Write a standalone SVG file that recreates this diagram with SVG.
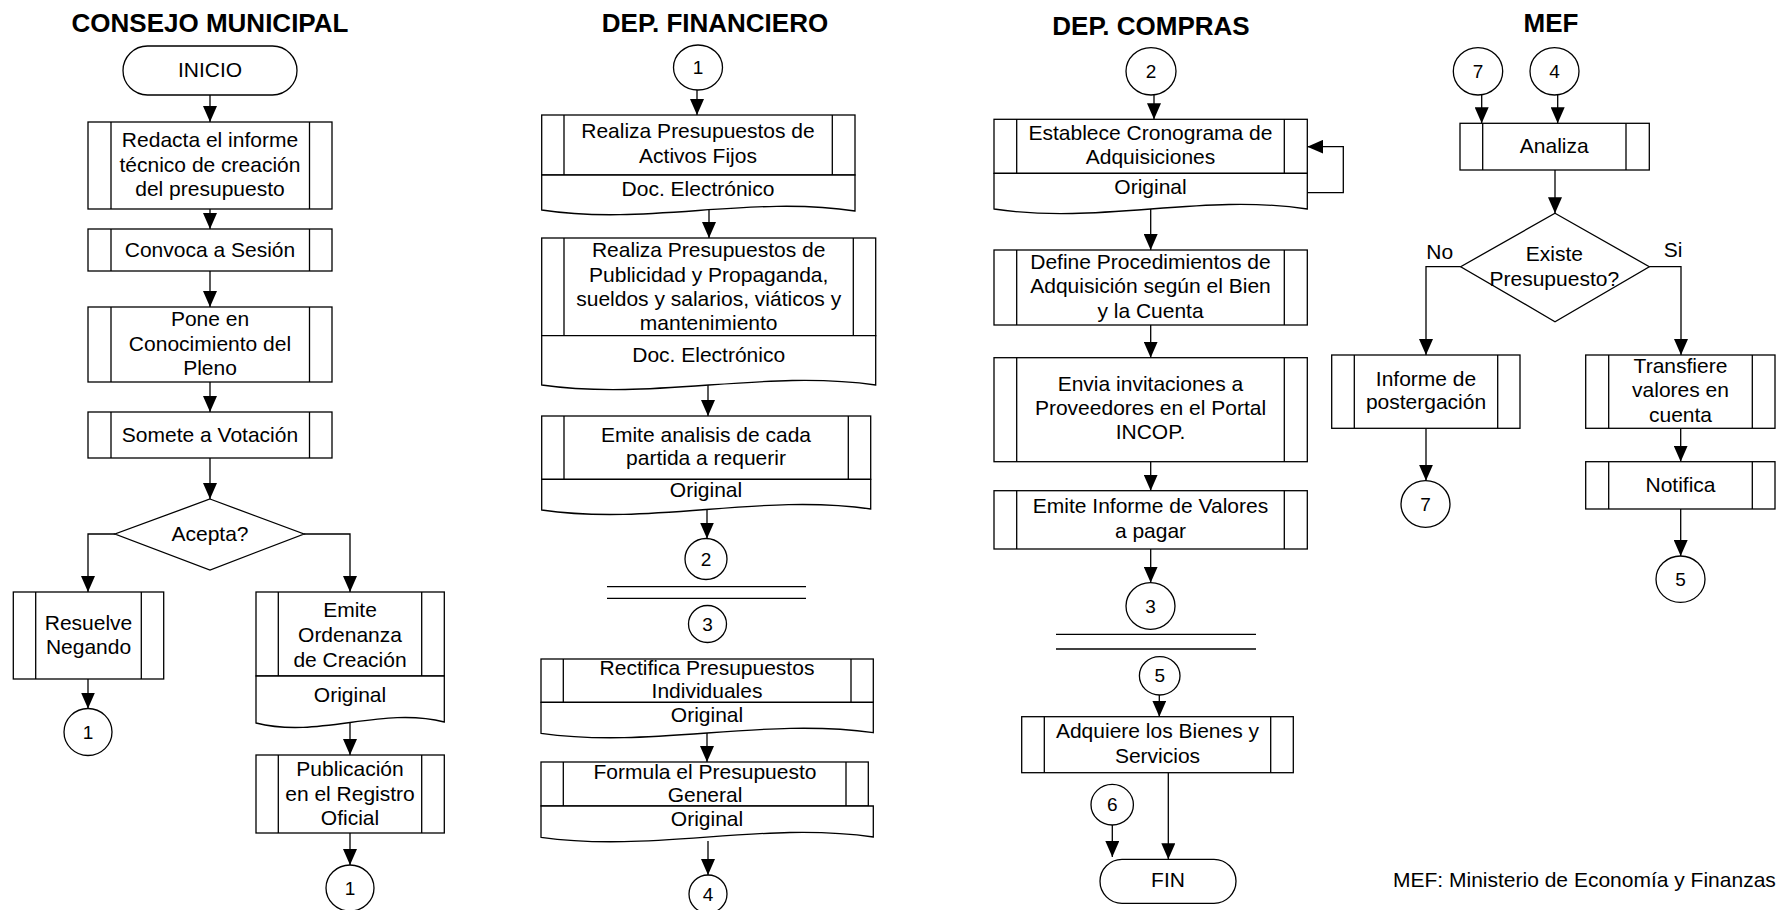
<svg xmlns="http://www.w3.org/2000/svg" width="1782" height="910" viewBox="0 0 1782 910">
<style>
.s{fill:#fff;stroke:#000;stroke-width:1.3}
.l{fill:none;stroke:#000;stroke-width:1.3}
.t{font-family:"Liberation Sans",Arial,sans-serif;font-size:21px;text-anchor:middle;fill:#000}
.n{font-family:"Liberation Sans",Arial,sans-serif;font-size:19px;text-anchor:middle;fill:#000}
.h{font-family:"Liberation Sans",Arial,sans-serif;font-size:26px;font-weight:bold;text-anchor:middle;fill:#000}
</style>
<defs>
<marker id="a" markerUnits="userSpaceOnUse" markerWidth="16" markerHeight="14" refX="16" refY="7" orient="auto"><path d="M0,0 L16,7 L0,14 z" fill="#000"/></marker>
</defs>
<rect width="1782" height="910" fill="#fff"/>

<g id="titles">
<text class="h" x="210" y="32">CONSEJO MUNICIPAL</text>
<text class="h" x="715" y="32">DEP. FINANCIERO</text>
<text class="h" x="1151" y="35">DEP. COMPRAS</text>
<text class="h" x="1551" y="32">MEF</text>
</g>

<g id="connectors" class="l" marker-end="url(#a)">
<line x1="210" y1="95" x2="210" y2="122"/>
<line x1="210" y1="209" x2="210" y2="229"/>
<line x1="210" y1="271" x2="210" y2="307"/>
<line x1="210" y1="382" x2="210" y2="412"/>
<line x1="210" y1="458" x2="210" y2="499"/>
<polyline points="115,534 88,534 88,592"/>
<polyline points="304,534 350,534 350,592"/>
<line x1="88" y1="679" x2="88" y2="708.5"/>
<line x1="350" y1="723" x2="350" y2="755"/>
<line x1="350" y1="833" x2="350" y2="865"/>

<line x1="697" y1="90" x2="697" y2="115"/>
<line x1="709" y1="210" x2="709" y2="238"/>
<line x1="708" y1="385" x2="708" y2="416"/>
<line x1="707" y1="510" x2="707" y2="538.5"/>
<line x1="707" y1="733" x2="707" y2="762"/>
<line x1="708" y1="841" x2="708" y2="875"/>

<line x1="1154" y1="95" x2="1154" y2="119.3"/>
<polyline points="1307.3,192.7 1343.3,192.7 1343.3,146.7 1307.3,146.7"/>
<line x1="1150.7" y1="209" x2="1150.7" y2="250"/>
<line x1="1150.7" y1="325" x2="1150.7" y2="357.7"/>
<line x1="1150.7" y1="461.7" x2="1150.7" y2="490.7"/>
<line x1="1150.7" y1="549" x2="1150.7" y2="582.7"/>
<line x1="1159.3" y1="695" x2="1159.3" y2="716.7"/>
<line x1="1112.3" y1="825" x2="1112.3" y2="857"/>
<line x1="1168.3" y1="772.7" x2="1168.3" y2="859.3"/>

<line x1="1481.7" y1="95" x2="1481.7" y2="123.3"/>
<line x1="1557.7" y1="95" x2="1557.7" y2="123.3"/>
<line x1="1555" y1="170" x2="1555" y2="213.3"/>
<polyline points="1460.7,266.7 1426,266.7 1426,355"/>
<polyline points="1649.3,266.7 1681,266.7 1681,355"/>
<line x1="1426" y1="428.3" x2="1426" y2="480.7"/>
<line x1="1680.7" y1="428.3" x2="1680.7" y2="461.7"/>
<line x1="1680.7" y1="509" x2="1680.7" y2="556"/>
</g>

<g id="separators" class="l">
<line x1="607" y1="586.7" x2="806" y2="586.7"/>
<line x1="607" y1="598.3" x2="806" y2="598.3"/>
<line x1="1056" y1="634.3" x2="1256" y2="634.3"/>
<line x1="1056" y1="649" x2="1256" y2="649"/>
</g>

<!-- CONSEJO MUNICIPAL -->
<g id="inicio"><rect class="s" x="123" y="46" width="174" height="49" rx="24.5"/><text class="t" x="210" y="77">INICIO</text></g>
<g id="redacta"><rect class="s" x="88" y="122" width="244" height="87"/><path class="l" d="M111 122V209M309.5 122V209"/>
<text class="t" x="210" y="147">Redacta el informe</text><text class="t" x="210" y="171.5">técnico de creación</text><text class="t" x="210" y="196">del presupuesto</text></g>
<g id="convoca"><rect class="s" x="88" y="229" width="244" height="42"/><path class="l" d="M111 229V271M309.5 229V271"/><text class="t" x="210" y="256.5">Convoca a Sesión</text></g>
<g id="pone"><rect class="s" x="88" y="307" width="244" height="75"/><path class="l" d="M111 307V382M309.5 307V382"/>
<text class="t" x="210" y="326">Pone en</text><text class="t" x="210" y="350.5">Conocimiento del</text><text class="t" x="210" y="375">Pleno</text></g>
<g id="somete"><rect class="s" x="88" y="412" width="244" height="46"/><path class="l" d="M111 412V458M309.5 412V458"/><text class="t" x="210" y="442">Somete a Votación</text></g>
<g id="acepta"><polygon class="s" points="210,499 304,534 210,570 115,534"/><text class="t" x="210" y="541">Acepta?</text></g>
<g id="resuelve"><rect class="s" x="13.3" y="592" width="150.4" height="87"/><path class="l" d="M35.7 592V679M141.3 592V679"/>
<text class="t" x="88.5" y="630">Resuelve</text><text class="t" x="88.5" y="653.5">Negando</text></g>
<g id="c1a"><ellipse class="s" cx="88" cy="732" rx="24" ry="23.5"/><text class="n" x="88" y="738.5">1</text></g>
<g id="emite-ordenanza"><rect class="s" x="256" y="592" width="188.3" height="84"/><path class="l" d="M278.3 592V676M421.7 592V676"/>
<path class="s" d="M256 676H444.3V722C381.5 706 318.8 739 256 723Z"/>
<text class="t" x="350" y="617">Emite</text><text class="t" x="350" y="642">Ordenanza</text><text class="t" x="350" y="667">de Creación</text><text class="t" x="350" y="702">Original</text></g>
<g id="publicacion"><rect class="s" x="256" y="755" width="188.3" height="78"/><path class="l" d="M278.3 755V833M421.7 755V833"/>
<text class="t" x="350" y="776">Publicación</text><text class="t" x="350" y="801">en el Registro</text><text class="t" x="350" y="825">Oficial</text></g>
<g id="c1b"><ellipse class="s" cx="350" cy="888" rx="24" ry="23"/><text class="n" x="350" y="894.5">1</text></g>

<!-- DEP. FINANCIERO -->
<g id="f-c1"><ellipse class="s" cx="698" cy="67.5" rx="24.5" ry="22.5"/><text class="n" x="698" y="74">1</text></g>
<g id="activos"><rect class="s" x="541.7" y="115" width="313.3" height="60"/><path class="l" d="M564 115V175M832.3 115V175"/>
<path class="s" d="M541.7 175H855V211C750.6 195 646.1 226 541.7 210Z"/>
<text class="t" x="698" y="137.7">Realiza Presupuestos de</text><text class="t" x="698" y="162.7">Activos Fijos</text><text class="t" x="698" y="196">Doc. Electrónico</text></g>
<g id="publicidad"><rect class="s" x="541.7" y="238" width="334" height="97.7"/><path class="l" d="M564 238V335.7M853.3 238V335.7"/>
<path class="s" d="M541.7 335.7H875.7V385C764.4 369 653 401 541.7 385Z"/>
<text class="t" x="708.7" y="256.7">Realiza Presupuestos de</text><text class="t" x="708.7" y="281.7">Publicidad y Propaganda,</text><text class="t" x="708.7" y="306">sueldos y salarios, viáticos y</text><text class="t" x="708.7" y="330">mantenimiento</text><text class="t" x="708.7" y="362.3">Doc. Electrónico</text></g>
<g id="analisis"><rect class="s" x="541.7" y="416" width="329" height="63.3"/><path class="l" d="M564 416V479.3M848.3 416V479.3"/>
<path class="s" d="M541.7 479.3H870.7V509C761 493 651.4 526 541.7 510Z"/>
<text class="t" x="706" y="441.7">Emite analisis de cada</text><text class="t" x="706" y="465">partida a requerir</text><text class="t" x="706" y="497.3">Original</text></g>
<g id="f-c2"><ellipse class="s" cx="706" cy="559" rx="21" ry="20.5"/><text class="n" x="706" y="565.5">2</text></g>
<g id="f-c3"><ellipse class="s" cx="707.5" cy="624" rx="19" ry="18.5"/><text class="n" x="707.5" y="630.5">3</text></g>
<g id="rectifica"><rect class="s" x="541" y="659" width="332.3" height="43.3"/><path class="l" d="M563.3 659V702.3M851 659V702.3"/>
<path class="s" d="M541 702.3H873.3V732.7C762.5 717 651.8 749 541 733.3Z"/>
<text class="t" x="707" y="675">Rectifica Presupuestos</text><text class="t" x="707" y="698.3">Individuales</text><text class="t" x="707" y="721.7">Original</text></g>
<g id="formula"><rect class="s" x="541" y="762" width="327.3" height="44"/><path class="l" d="M563.3 762V806M846 762V806"/>
<path class="s" d="M541 806H873.3V837C762.5 821 651.8 853 541 837.3Z"/>
<text class="t" x="705" y="779.3">Formula el Presupuesto</text><text class="t" x="705" y="802.3">General</text><text class="t" x="707" y="825.7">Original</text></g>
<g id="f-c4"><ellipse class="s" cx="708" cy="894" rx="19" ry="19"/><text class="n" x="708" y="900.5">4</text></g>

<!-- DEP. COMPRAS -->
<g id="p-c2"><ellipse class="s" cx="1151" cy="71.3" rx="25" ry="23.7"/><text class="n" x="1151" y="77.8">2</text></g>
<g id="establece"><rect class="s" x="994" y="119.3" width="313.3" height="54"/><path class="l" d="M1016.7 119.3V173.3M1284.3 119.3V173.3"/>
<path class="s" d="M994 173.3H1307.3V209C1202.9 193 1098.4 225 994 209Z"/>
<text class="t" x="1150.5" y="140">Establece Cronograma de</text><text class="t" x="1150.5" y="164.3">Adquisiciones</text><text class="t" x="1150.5" y="194.3">Original</text></g>
<g id="define"><rect class="s" x="994" y="250" width="313.3" height="75"/><path class="l" d="M1016.7 250V325M1284.3 250V325"/>
<text class="t" x="1150.5" y="269.3">Define Procedimientos de</text><text class="t" x="1150.5" y="293.3">Adquisición según el Bien</text><text class="t" x="1150.5" y="318.3">y la Cuenta</text></g>
<g id="envia"><rect class="s" x="994" y="357.7" width="313.3" height="104"/><path class="l" d="M1016.7 357.7V461.7M1284.3 357.7V461.7"/>
<text class="t" x="1150.5" y="390.7">Envia invitaciones a</text><text class="t" x="1150.5" y="415">Proveedores en el Portal</text><text class="t" x="1150.5" y="439.3">INCOP.</text></g>
<g id="emite-informe"><rect class="s" x="994" y="490.7" width="313.3" height="58.3"/><path class="l" d="M1016.7 490.7V549M1284.3 490.7V549"/>
<text class="t" x="1150.5" y="513.3">Emite Informe de Valores</text><text class="t" x="1150.5" y="538.3">a pagar</text></g>
<g id="p-c3"><ellipse class="s" cx="1150.5" cy="606" rx="24.5" ry="23.3"/><text class="n" x="1150.5" y="612.5">3</text></g>
<g id="p-c5"><ellipse class="s" cx="1159.7" cy="675.8" rx="20.3" ry="19.2"/><text class="n" x="1159.7" y="682.3">5</text></g>
<g id="adquiere"><rect class="s" x="1021.7" y="716.7" width="271.6" height="56"/><path class="l" d="M1044.3 716.7V772.7M1270.7 716.7V772.7"/>
<text class="t" x="1157.5" y="738.3">Adquiere los Bienes y</text><text class="t" x="1157.5" y="763.3">Servicios</text></g>
<g id="p-c6"><ellipse class="s" cx="1112.2" cy="804.7" rx="21.2" ry="20.3"/><text class="n" x="1112.2" y="811.2">6</text></g>
<g id="fin"><rect class="s" x="1100" y="859.3" width="136" height="44" rx="22"/><text class="t" x="1168" y="887.3">FIN</text></g>

<!-- MEF -->
<g id="m-c7"><ellipse class="s" cx="1478" cy="71.3" rx="24.7" ry="23.7"/><text class="n" x="1478" y="77.8">7</text></g>
<g id="m-c4"><ellipse class="s" cx="1554.5" cy="71.3" rx="24.5" ry="23.7"/><text class="n" x="1554.5" y="77.8">4</text></g>
<g id="analiza"><rect class="s" x="1460" y="123.3" width="189.3" height="46.7"/><path class="l" d="M1482.7 123.3V170M1626 123.3V170"/><text class="t" x="1554.3" y="152.7">Analiza</text></g>
<g id="existe"><polygon class="s" points="1555,213.3 1649.3,266.7 1555,321.7 1460.7,266.7"/>
<text class="t" x="1554.3" y="260.7">Existe</text><text class="t" x="1554.3" y="286">Presupuesto?</text></g>
<g id="labels"><text class="t" x="1439.7" y="259.3">No</text><text class="t" x="1673" y="256.7">Si</text></g>
<g id="informe"><rect class="s" x="1331.7" y="355" width="188.3" height="73.3"/><path class="l" d="M1354.3 355V428.3M1497.7 355V428.3"/>
<text class="t" x="1426" y="386">Informe de</text><text class="t" x="1426" y="409.3">postergación</text></g>
<g id="transfiere"><rect class="s" x="1585.7" y="355" width="189.3" height="73.3"/><path class="l" d="M1608.7 355V428.3M1752.3 355V428.3"/>
<text class="t" x="1680.5" y="372.7">Transfiere</text><text class="t" x="1680.5" y="397.3">valores en</text><text class="t" x="1680.5" y="422.3">cuenta</text></g>
<g id="m-c7b"><ellipse class="s" cx="1425.5" cy="504" rx="24.5" ry="23.3"/><text class="n" x="1425.5" y="510.5">7</text></g>
<g id="notifica"><rect class="s" x="1585.7" y="461.7" width="189.3" height="47.3"/><path class="l" d="M1608.7 461.7V509M1752.3 461.7V509"/><text class="t" x="1680.5" y="491.7">Notifica</text></g>
<g id="m-c5"><ellipse class="s" cx="1680.5" cy="579.2" rx="24.5" ry="23.2"/><text class="n" x="1680.5" y="585.7">5</text></g>
<g id="footer"><text class="t" x="1393" y="887.3" style="text-anchor:start">MEF: Ministerio de Economía y Finanzas</text></g>
</svg>
